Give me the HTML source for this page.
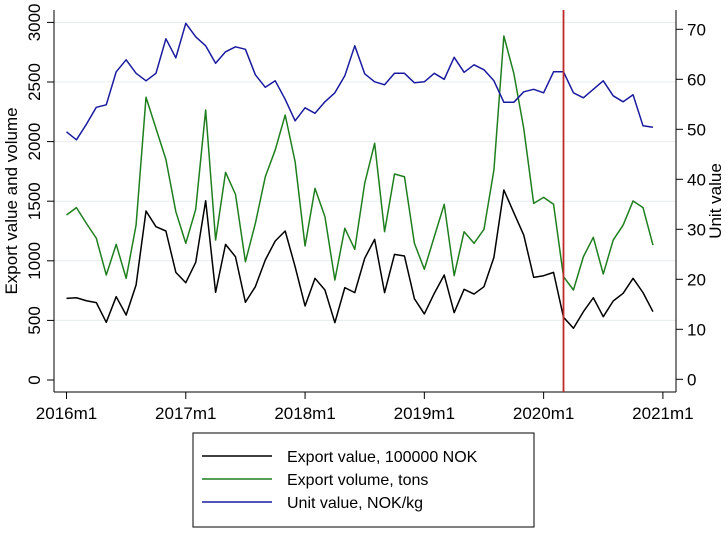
<!DOCTYPE html>
<html><head><meta charset="utf-8"><style>
body{margin:0;background:#fff;width:727px;height:530px;overflow:hidden}
svg text{font-family:"Liberation Sans",Arial,sans-serif;fill:#000}
</style></head><body>
<svg id="chart" width="727" height="530" xmlns="http://www.w3.org/2000/svg">
<g id="grid"></g><g id="axes"></g><g id="series"></g>
<g>
<rect x="193" y="433" width="341" height="94" fill="#fff" stroke="#000" stroke-width="1"/>
<line x1="202" y1="456" x2="272" y2="456" stroke="#000" stroke-width="1.5"/>
<text x="287" y="462" font-size="16">Export value, 100000 NOK</text>
<line x1="202" y1="479" x2="272" y2="479" stroke="#1f7f1f" stroke-width="1.5"/>
<text x="287" y="485" font-size="16">Export volume, tons</text>
<line x1="202" y1="502" x2="272" y2="502" stroke="#1a1aa0" stroke-width="1.5"/>
<text x="287" y="508" font-size="16">Unit value, NOK/kg</text>
</g>
</svg>
<script>
const xTickLabels=["2016m1","2017m1","2018m1","2019m1","2020m1","2021m1"];
const leftTicks=[0,500,1000,1500,2000,2500,3000];
const rightTicks=[0,10,20,30,40,50,60,70];
const exportValue=[685,690,665,649,484,699,545,797,1418,1286,1250,903,816,987,1504,735,1138,1034,652,783,1007,1166,1250,951,621,853,755,481,775,733,1021,1180,733,1054,1040,682,554,727,881,565,761,721,783,1029,1594,1404,1216,861,875,903,526,434,573,690,531,663,727,853,733,573];
const exportVolume=[1384,1446,1314,1189,881,1138,853,1300,2372,2111,1851,1412,1147,1432,2265,1174,1742,1558,992,1314,1705,1930,2223,1831,1124,1608,1370,839,1273,1096,1650,1986,1244,1728,1705,1147,929,1202,1474,875,1244,1147,1264,1762,2886,2573,2111,1482,1532,1474,867,755,1034,1197,889,1174,1300,1502,1446,1132];
const unitValue=[49.5,47.9,51.0,54.4,54.9,61.5,63.9,61.2,59.7,61.2,68.1,64.3,71.2,68.5,66.7,63.2,65.5,66.5,66.0,60.9,58.4,59.7,56.0,51.7,54.3,53.2,55.5,57.3,60.7,66.7,61.1,59.5,58.9,61.2,61.2,59.3,59.5,61.2,60.0,64.4,61.4,62.9,61.9,59.7,55.4,55.4,57.5,58.0,57.3,61.5,61.5,57.3,56.3,58.0,59.7,56.7,55.5,56.9,50.7,50.4];
const eventMonth=50;
const NS="http://www.w3.org/2000/svg";
const X=m=>66.5+m*9.94;
const YL=v=>380-v*0.1192;
const YR=v=>379.3-v*5;
function mk(tag,attrs,parent,txt){const e=document.createElementNS(NS,tag);for(const k in attrs)e.setAttribute(k,attrs[k]);if(txt!==undefined)e.textContent=txt;parent.appendChild(e);return e;}
const grid=document.getElementById('grid'),axes=document.getElementById('axes'),ser=document.getElementById('series');
leftTicks.forEach(v=>{
 if(v>0){const g=mk('line',{x1:54,x2:676,y1:YL(v),y2:YL(v),stroke:'#e6ecef','stroke-width':1},grid);
 
 }
 mk('line',{x1:47,x2:54,y1:YL(v),y2:YL(v),stroke:'#000'},axes);
 const t=mk('text',{x:0,y:0,'font-size':17,'text-anchor':'middle',transform:`translate(40,${YL(v)}) rotate(-90)`},axes,String(v));
 
 
});
rightTicks.forEach(v=>{
 mk('line',{x1:676,x2:683,y1:YR(v),y2:YR(v),stroke:'#000'},axes);
 const t=mk('text',{x:687,y:YR(v)+6,'font-size':17},axes,String(v));
 
 
});
xTickLabels.forEach((l,i)=>{
 const x=X(i*12);
 mk('line',{x1:x,x2:x,y1:392,y2:399,stroke:'#000'},axes);
 const t=mk('text',{x:x,y:419,'font-size':17,'text-anchor':'middle'},axes,l);
 
 
});
mk('line',{x1:54,x2:54,y1:10,y2:392,stroke:'#000'},axes);
mk('line',{x1:676,x2:676,y1:10,y2:392,stroke:'#000'},axes);
mk('line',{x1:54,x2:676,y1:392,y2:392,stroke:'#000'},axes);
const lt=mk('text',{x:0,y:0,'font-size':17,'text-anchor':'middle',transform:'translate(17,201) rotate(-90)'},axes,'Export value and volume');


const rt=mk('text',{x:0,y:0,'font-size':17,'text-anchor':'middle',transform:'translate(721,201) rotate(-90)'},axes,'Unit value');


function line(data,Y,color,name){
 const p=mk('polyline',{points:data.map((v,i)=>X(i)+','+Y(v)).join(' '),fill:'none',stroke:color,'stroke-width':1.5,'stroke-linejoin':'round'},ser);
 
 
}
line(exportValue,YL,'#000','export-value-line');
line(exportVolume,YL,'#1f7f1f','export-volume-line');
line(unitValue,YR,'#1a1aa0','unit-value-line');
const ev=mk('line',{x1:X(eventMonth),x2:X(eventMonth),y1:10,y2:392,stroke:'#c0282a','stroke-width':1.8},ser);


</script>
</body></html>
